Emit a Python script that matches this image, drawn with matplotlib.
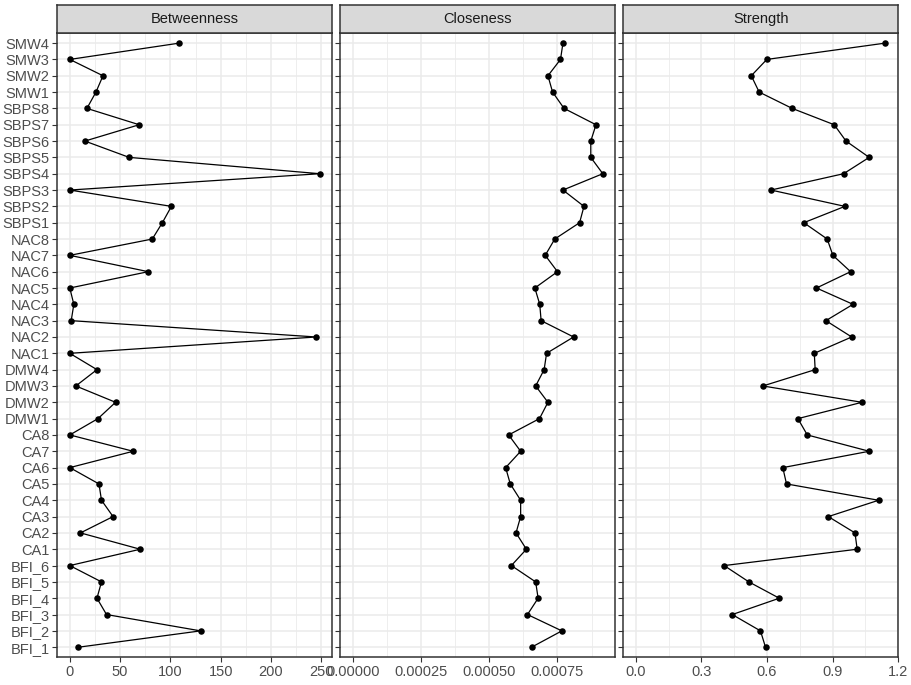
import matplotlib
matplotlib.use('Agg')
import matplotlib.pyplot as plt
import numpy as np

plt.rcParams['font.family'] = ['Liberation Sans', 'DejaVu Sans']

nodes = ['BFI_1', 'BFI_2', 'BFI_3', 'BFI_4', 'BFI_5', 'BFI_6',
         'CA1', 'CA2', 'CA3', 'CA4', 'CA5', 'CA6', 'CA7', 'CA8',
         'DMW1', 'DMW2', 'DMW3', 'DMW4',
         'NAC1', 'NAC2', 'NAC3', 'NAC4', 'NAC5', 'NAC6', 'NAC7', 'NAC8',
         'SBPS1', 'SBPS2', 'SBPS3', 'SBPS4', 'SBPS5', 'SBPS6', 'SBPS7', 'SBPS8',
         'SMW1', 'SMW2', 'SMW3', 'SMW4']

betweenness = [8.6, 130, 36.5, 27, 31.5, 0,
               70, 10.6, 43, 31.5, 29, 0, 63, 0,
               28, 45.5, 6, 27,
               0, 245, 1.4, 4, 0, 78, 0, 82,
               92, 101, 0, 248.5, 59, 15, 69, 17,
               26, 33, 0, 109]

closeness = [0.000655, 0.000766, 0.000640, 0.000679, 0.000670, 0.000581,
             0.000636, 0.000598, 0.000615, 0.000615, 0.000577, 0.000560, 0.000615, 0.000571,
             0.000684, 0.000715, 0.000670, 0.000701,
             0.000710, 0.000809, 0.000690, 0.000685, 0.000667, 0.000750, 0.000705, 0.000740,
             0.000831, 0.000847, 0.000770, 0.000916, 0.000872, 0.000872, 0.000891, 0.000774,
             0.000732, 0.000715, 0.000761, 0.000770]

strength = [0.593, 0.570, 0.441, 0.656, 0.517, 0.404,
            1.012, 1.002, 0.880, 1.110, 0.689, 0.672, 1.067, 0.784,
            0.741, 1.034, 0.581, 0.820,
            0.816, 0.987, 0.869, 0.993, 0.826, 0.982, 0.901, 0.875,
            0.768, 0.956, 0.618, 0.950, 1.067, 0.961, 0.907, 0.715,
            0.564, 0.528, 0.599, 1.141]

measures = ['Betweenness', 'Closeness', 'Strength']
values = [betweenness, closeness, strength]
major_ticks = [[0, 50, 100, 150, 200, 250],
               [0, 0.00025, 0.0005, 0.00075],
               [0, 0.3, 0.6, 0.9, 1.2]]
tick_labels = [['0', '50', '100', '150', '200', '250'],
               ['0.00000', '0.00025', '0.00050', '0.00075'],
               ['0.0', '0.3', '0.6', '0.9', '1.2']]

W, H = 911, 685
fig = plt.figure(figsize=(W / 100, H / 100), dpi=100)

lefts = [57.3, 340.3, 623.3]
pw = 275.0
bottom, top, strip_top = 657.0, 33.3, 5.0
grid_col = '#EBEBEB'
border_col = '#333333'

ypos = np.arange(len(nodes))

for i in range(3):
    ax = fig.add_axes([lefts[i] / W, 1 - bottom / H, pw / W, (bottom - top) / H])
    x = np.array(values[i])
    hi = x.max()
    ax.set_xlim(-0.05 * hi, 1.05 * hi)
    ax.set_ylim(-0.6, len(nodes) - 0.4)

    mj = major_ticks[i]
    step = mj[1] - mj[0]
    minor = np.arange(mj[0] - step / 2, 1.05 * hi + step, step)
    for m in minor:
        ax.axvline(m, color=grid_col, lw=0.6, zorder=0)
    for m in mj:
        ax.axvline(m, color=grid_col, lw=1.1, zorder=0)
    for y in ypos:
        ax.axhline(y, color=grid_col, lw=1.1, zorder=0)

    ax.plot(x, ypos, color='black', lw=0.9, zorder=2)
    ax.scatter(x, ypos, s=22, color='black', zorder=3, linewidths=0)

    ax.set_xticks(mj)
    ax.set_xticklabels(tick_labels[i])
    ax.set_yticks(ypos)
    if i == 0:
        ax.set_yticklabels(nodes)
    else:
        ax.set_yticklabels([])
        ax.tick_params(axis='y', length=0)
    ax.tick_params(axis='both', colors=border_col, labelcolor='#4D4D4D',
                   labelsize=10.5, length=3.5, width=0.8, pad=2)
    for s in ax.spines.values():
        s.set_color(border_col)
        s.set_linewidth(1.1)

    sax = fig.add_axes([lefts[i] / W, 1 - top / H, pw / W, (top - strip_top) / H])
    sax.set_facecolor('#D9D9D9')
    sax.set_xticks([])
    sax.set_yticks([])
    for s in sax.spines.values():
        s.set_color(border_col)
        s.set_linewidth(1.1)
    sax.text(0.5, 0.5, measures[i], ha='center', va='center',
             fontsize=10.5, color='#1A1A1A', transform=sax.transAxes)

fig.savefig('out.png', dpi=100, facecolor='white')
